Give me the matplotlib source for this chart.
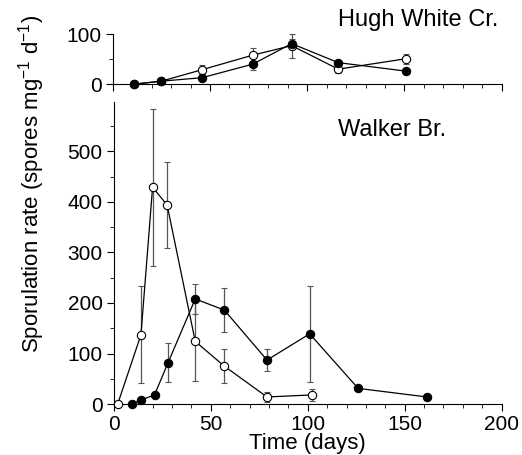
import matplotlib
matplotlib.use("Agg")
import matplotlib.pyplot as plt
from matplotlib.ticker import MultipleLocator, FixedLocator

plt.rcParams["font.family"] = ["Liberation Sans", "DejaVu Sans"]
plt.rcParams["mathtext.fontset"] = "custom"
plt.rcParams["mathtext.rm"] = "Liberation Sans"
plt.rcParams["mathtext.default"] = "regular"

# Hugh White Cr. (top panel)
hw_open_days = [11, 25, 46, 72, 92, 116, 151]
hw_open_rate = [0, 6, 29, 58, 77, 30, 51]
hw_open_err = [0, 0, 9, 14, 24, 8, 10]
hw_fill_days = [11, 25, 46, 72, 92, 116, 151]
hw_fill_rate = [0, 6, 13, 40, 81, 43, 26]
hw_fill_err = [0, 0, 0, 12, 10, 6, 0]

# Walker Br. (bottom panel)
wb_open_days = [2, 14, 20, 27.5, 42, 57, 79, 102]
wb_open_rate = [0, 137, 429, 394, 124, 75, 14, 18]
wb_open_err = [0, 96, 155, 86, 78, 34, 10, 11]
wb_fill_days = [9.5, 14, 21, 28, 42, 57, 79, 101, 126, 161.5]
wb_fill_rate = [0, 8, 18, 82, 208, 186, 87, 139, 31, 14]
wb_fill_err = [0, 0, 0, 38, 30, 43, 22, 95, 0, 0]


def draw_series(ax, days, rate, err, filled):
    ax.errorbar(
        days, rate, yerr=err,
        fmt="-o", color="black", lw=0.9,
        ecolor="#555555", elinewidth=0.9, capsize=2.5, capthick=0.9,
        markersize=6,
        markerfacecolor="black" if filled else "white",
        markeredgecolor="black", markeredgewidth=0.8,
        clip_on=False, zorder=3,
    )


def style_axes(ax):
    ax.spines["top"].set_visible(False)
    ax.spines["right"].set_visible(False)
    ax.set_xlim(0, 200)
    ax.xaxis.set_major_locator(MultipleLocator(50))
    ax.xaxis.set_minor_locator(MultipleLocator(10))
    ax.tick_params(axis="both", which="major", direction="out", length=5, width=0.8,
                   labelsize=15, pad=3)
    ax.tick_params(axis="both", which="minor", direction="out", length=3, width=0.6)


fig = plt.figure(figsize=(5.22, 4.55), dpi=100)
ax_top = fig.add_axes([0.216, 0.815, 0.745, 0.110])
ax_bot = fig.add_axes([0.218, 0.112, 0.743, 0.664])

# Top panel
draw_series(ax_top, hw_open_days, hw_open_rate, hw_open_err, False)
draw_series(ax_top, hw_fill_days, hw_fill_rate, hw_fill_err, True)
style_axes(ax_top)
ax_top.set_ylim(0, 100)
ax_top.yaxis.set_major_locator(FixedLocator([0, 100]))
ax_top.yaxis.set_minor_locator(FixedLocator([50]))
ax_top.tick_params(axis="x", labelbottom=False)

# Bottom panel
draw_series(ax_bot, wb_open_days, wb_open_rate, wb_open_err, False)
draw_series(ax_bot, wb_fill_days, wb_fill_rate, wb_fill_err, True)
style_axes(ax_bot)
ax_bot.set_ylim(0, 598)
ax_bot.yaxis.set_major_locator(FixedLocator([0, 100, 200, 300, 400, 500]))
ax_bot.yaxis.set_minor_locator(FixedLocator([50, 150, 250, 350, 450, 550]))
ax_bot.set_xlabel("Time (days)", fontsize=16, labelpad=-1)

# Panel names and shared y label
fig.text(0.648, 0.956, "Hugh White Cr.", fontsize=17, va="center")
fig.text(0.648, 0.714, "Walker Br.", fontsize=17, va="center")
fig.text(0.06, 0.595, "Sporulation rate (spores mg$^{-1}$ d$^{-1}$)",
         rotation=90, ha="center", va="center", fontsize=16)

fig.savefig("out.png", dpi=100)
